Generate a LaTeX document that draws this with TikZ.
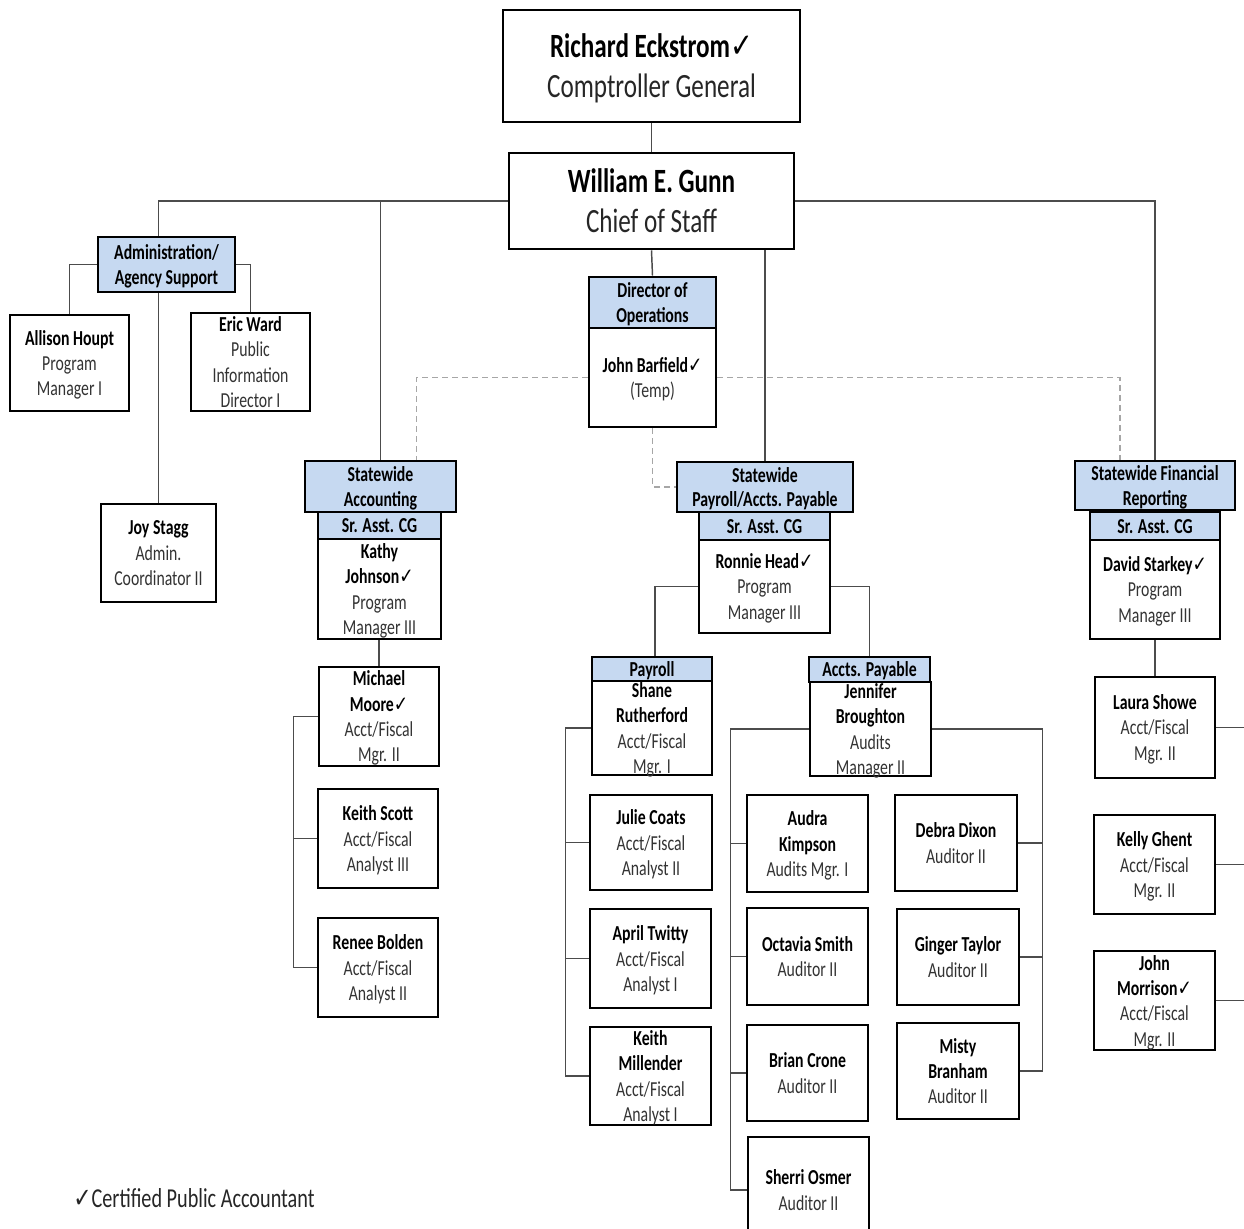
\documentclass[tikz,border=0pt]{standalone}
\usepackage{fontspec}
\setmainfont{Carlito}[FakeStretch=0.74]
\newfontfamily\checkfont{DejaVu Sans}[FakeStretch=0.8]
\usetikzlibrary{calc}
\definecolor{hdrblue}{RGB}{198,217,241}
\newcommand\cpa{{\checkfont\bfseries ✓}}
\newcommand\who[1]{{\color{black}\bfseries #1}}
\tikzset{
  box/.style={draw=black, line width=2pt, fill=white, inner sep=0pt, align=center,
    text depth=0pt, text=black!80, font=\fontsize{16}{19}\selectfont},
  hdr/.style={box, fill=hdrblue, text=black, font=\bfseries\fontsize{16}{18.5}\selectfont},
  big/.style={box, text=black!85, font=\fontsize{25.5}{30}\selectfont},
  sz/.style 2 args={minimum width=#1*0.75pt, minimum height=#2*0.75pt},
  conn/.style={draw=black!70, line width=1.1pt},
  dashlink/.style={draw=black!35, line width=1pt, dash pattern=on 4.5pt off 3pt}
}
\begin{document}
\begin{tikzpicture}[x=0.75pt,y=-0.75pt]
\useasboundingbox (0,0) rectangle (1244,1228);
\clip (0,0) rectangle (1244,1228);

% top
\node[big, sz={297}{112}] (ceo) at (651.5,66) {\who{Richard Eckstrom\cpa}\\Comptroller General};
\node[big, sz={285}{96}] (gunn) at (651.5,201) {\who{William E. Gunn}\\Chief of Staff};

% administration
\node[hdr, sz={137}{55}] (admin) at (166.5,264.5) {Administration/\\Agency Support};
\node[box, sz={119}{96}] (houpt) at (69.5,363) {\who{Allison Houpt}\\Program\\Manager I};
\node[box, sz={119}{98}] (ward) at (250.5,362) {\who{Eric Ward}\\Public\\Information\\Director I};
\node[box, sz={115}{98}] (stagg) at (158.5,553) {\who{Joy Stagg}\\Admin.\\Coordinator II};

% operations
\node[hdr, sz={127}{51}] (dirops) at (652.5,302.5) {Director of\\Operations};
\node[box, sz={127}{99}] (barfield) at (652.5,377.5) {\who{John Barfield\cpa}\\(Temp)};

% statewide accounting
\node[hdr, sz={151}{51}] (acct) at (380.5,486.5) {Statewide\\Accounting};
\node[hdr, sz={123}{27}] (acctcg) at (379.5,525.5) {Sr. Asst. CG};
\node[box, sz={123}{100}] (johnson) at (379.5,589) {\who{Kathy}\\\who{Johnson\cpa}\\Program\\Manager III};
\node[box, sz={120}{99}] (moore) at (379,716.5) {\who{Michael}\\\who{Moore\cpa}\\Acct/Fiscal\\Mgr. II};
\node[box, sz={120}{99}] (kscott) at (378,838.5) {\who{Keith Scott}\\Acct/Fiscal\\Analyst III};
\node[box, sz={120}{99}] (bolden) at (378,967.5) {\who{Renee Bolden}\\Acct/Fiscal\\Analyst II};

% statewide payroll
\node[hdr, sz={176}{50}] (pay) at (765,487) {Statewide\\Payroll/Accts. Payable};
\node[hdr, sz={131}{28}] (paycg) at (764.5,526) {Sr. Asst. CG};
\node[box, sz={131}{93}] (head) at (764.5,586.5) {\who{Ronnie Head\cpa}\\Program\\Manager III};

\node[hdr, sz={120}{24}] (payroll) at (652,669) {Payroll};
\node[box, sz={120}{94}] (rutherford) at (652,728) {\who{Shane}\\\who{Rutherford}\\Acct/Fiscal\\Mgr. I};
\node[box, sz={122}{95}] (coats) at (651,842.5) {\who{Julie Coats}\\Acct/Fiscal\\Analyst II};
\node[box, sz={121}{99}] (twitty) at (650.5,958.5) {\who{April Twitty}\\Acct/Fiscal\\Analyst I};
\node[box, sz={121}{98}] (millender) at (650.5,1076) {\who{Keith}\\\who{Millender}\\Acct/Fiscal\\Analyst I};

\node[hdr, sz={121}{25}] (apay) at (869.5,669.5) {Accts. Payable};
\node[box, sz={121}{94}] (broughton) at (870.5,729) {\who{Jennifer}\\\who{Broughton}\\Audits\\Manager II};
\node[box, sz={121}{97}] (kimpson) at (807.5,843.5) {\who{Audra}\\\who{Kimpson}\\Audits Mgr. I};
\node[box, sz={121}{97}] (smith) at (807.5,956.5) {\who{Octavia Smith}\\Auditor II};
\node[box, sz={121}{96}] (crone) at (807.5,1073) {\who{Brian Crone}\\Auditor II};
\node[box, sz={121}{106}] (osmer) at (808.5,1190) {\who{Sherri Osmer}\\Auditor II};
\node[box, sz={122}{96}] (dixon) at (956,843) {\who{Debra Dixon}\\Auditor II};
\node[box, sz={122}{96}] (taylor) at (958,957) {\who{Ginger Taylor}\\Auditor II};
\node[box, sz={122}{96}] (branham) at (958,1071) {\who{Misty}\\\who{Branham}\\Auditor II};

% statewide financial reporting
\node[hdr, sz={160}{49}] (fin) at (1155,485.5) {Statewide Financial\\Reporting};
\node[hdr, sz={130}{28}] (fincg) at (1155,526) {Sr. Asst. CG};
\node[box, sz={130}{99}] (starkey) at (1155,589.5) {\who{David Starkey\cpa}\\Program\\Manager III};
\node[box, sz={120}{101}] (showe) at (1155,727.5) {\who{Laura Showe}\\Acct/Fiscal\\Mgr. II};
\node[box, sz={121}{99}] (ghent) at (1154.5,864.5) {\who{Kelly Ghent}\\Acct/Fiscal\\Mgr. II};
\node[box, sz={121}{99}] (morrison) at (1154.5,1000.5) {\who{John}\\\who{Morrison\cpa}\\Acct/Fiscal\\Mgr. II};

% legend
\node[anchor=west, inner sep=0pt, text=black!85, font=\fontsize{20.5}{24}\selectfont] (legend) at (73,1198) {{\checkfont ✓}Certified Public Accountant};

% lines
\draw[conn] (ceo) -- (gunn);
\draw[conn] (gunn.west) -| (admin.north -| stagg.north);
\draw[conn] (gunn.west -| acct.north) -- (acct.north);
\draw[conn] (gunn.south) -- (dirops.north);
\draw[conn] (gunn.south -| pay.north) -- (pay.north);
\draw[conn] (gunn.east) -| (fin.north);

\draw[conn] (admin.west) -| (houpt.north);
\draw[conn] (admin.east) -| (ward.north);
\draw[conn] (admin.south -| stagg.north) -- (stagg.north);

\draw[dashlink] (barfield.west) -| ($(acct.north)+(36,0)$);
\draw[dashlink] (barfield.east) -| ($(fin.north)+(-35,0)$);
\draw[dashlink] (barfield.south) |- (pay.west);

\draw[conn] (johnson.south -| moore.north) -- (moore.north);
\draw[conn] (moore.west) -- ++(-24,0) |- (bolden.west);
\draw[conn] (kscott.west) -- ++(-23,0);

\draw[conn] (head.west) -| ($(payroll.north)+(3,0)$);
\draw[conn] (head.east) -| (apay.north);
\draw[conn] (rutherford.west) -- ++(-25,0) |- (millender.west);
\draw[conn] (coats.west) -- ++(-23,0);
\draw[conn] (twitty.west) -- ++(-23,0);

\draw[conn] (broughton.west) -- ++(-78,0) |- (osmer.west);
\draw[conn] (kimpson.west) -- ++(-15,0);
\draw[conn] (smith.west) -- ++(-15,0);
\draw[conn] (crone.west) -- ++(-15,0);
\draw[conn] (broughton.east) -- ++(110,0) |- (branham.east);
\draw[conn] (dixon.east) -- ++(24,0);
\draw[conn] (taylor.east) -- ++(22,0);

\draw[conn] (starkey.south) -- (showe.north);
\draw[conn] (showe.east) -- ++(28,0) |- (morrison.east);
\draw[conn] (ghent.east) -- ++(28,0);
\end{tikzpicture}
\end{document}
